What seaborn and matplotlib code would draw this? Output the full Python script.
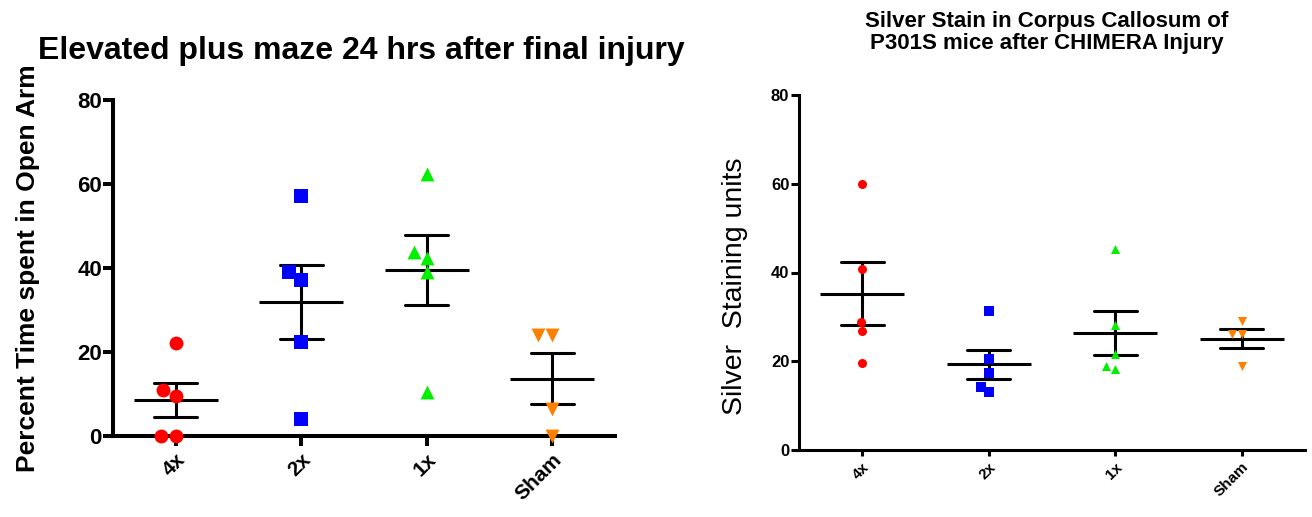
import numpy as np
import pandas as pd
import matplotlib
matplotlib.use("Agg")
import matplotlib.pyplot as plt
import seaborn as sns

# ---------------- data ----------------
categories = ["4x", "2x", "1x", "Sham"]
colors = ["#FF0000", "#0000FF", "#00F000", "#FF8000"]
markers = ["o", "s", "^", "v"]

epm_4x = [22.1, 10.9, 9.5, 0.0, 0.0]
epm_2x = [57.1, 38.9, 37.0, 22.4, 4.0]
epm_1x = [62.2, 43.8, 42.4, 38.9, 10.4]
epm_sham = [24.0, 24.0, 6.5, 0.0]

silver_4x = [60.0, 40.9, 28.9, 26.9, 19.5]
silver_2x = [31.4, 20.6, 17.4, 14.3, 13.1]
silver_1x = [45.2, 28.2, 21.6, 18.9, 18.2]
silver_sham = [29.1, 26.1, 26.1, 19.0]

left_title = "Elevated plus maze 24 hrs after final injury"
left_ylabel = "Percent Time spent in Open Arm"
right_title = "Silver Stain in Corpus Callosum of\nP301S mice after CHIMERA Injury"
right_ylabel = "Silver  Staining units"
yticks = [0, 20, 40, 60, 80]


def make_df(groups):
    rows = []
    for cat, vals in zip(categories, groups):
        for v in vals:
            rows.append((cat, v))
    return pd.DataFrame(rows, columns=["group", "value"])


df_left = make_df([epm_4x, epm_2x, epm_1x, epm_sham])
df_right = make_df([silver_4x, silver_2x, silver_1x, silver_sham])

sns.set_theme(style="ticks")
plt.rcParams["font.family"] = ["Liberation Sans", "DejaVu Sans"]
plt.rcParams["text.color"] = "black"
plt.rcParams["axes.labelcolor"] = "black"
plt.rcParams["xtick.color"] = "black"
plt.rcParams["ytick.color"] = "black"
plt.rcParams["axes.edgecolor"] = "black"

fig = plt.figure(figsize=(13.12, 5.17), dpi=100)
ax1 = fig.add_axes([113 / 1312, 1 - 436 / 517, 502 / 1312, 336.5 / 517])
ax2 = fig.add_axes([799 / 1312, 1 - 450 / 517, 506 / 1312, 355 / 517])


def draw(ax, df, msize, lw, mean_len, spine_w, tick_fs, xtick_fs, yticklen, xticklen):
    for cat, col, mk in zip(categories, colors, markers):
        sub = df[df["group"] == cat]
        sns.swarmplot(data=sub, x="group", y="value", order=categories,
                      color=col, marker=mk, size=msize, linewidth=0, ax=ax)
    for coll in ax.collections:
        coll.set_clip_on(False)
    sns.pointplot(data=df, x="group", y="value", order=categories,
                  errorbar="se", capsize=0.34, color="black",
                  linestyle="none", marker="_", markersize=mean_len,
                  markeredgewidth=lw, err_kws={"linewidth": lw}, ax=ax)
    ax.set_xlim(-0.5, 3.5)
    ax.set_ylim(0, 80)
    ax.set_yticks(yticks)
    sns.despine(ax=ax)
    for s in ["left", "bottom"]:
        ax.spines[s].set_linewidth(spine_w)
    ax.tick_params(axis="both", width=spine_w, color="black")
    ax.tick_params(axis="y", labelsize=tick_fs, pad=1, length=yticklen)
    ax.tick_params(axis="x", labelsize=xtick_fs, pad=3, length=xticklen)
    for t in ax.get_yticklabels():
        t.set_fontweight("bold")
    for t in ax.get_xticklabels():
        t.set_fontweight("bold")
        t.set_rotation(45)
        t.set_ha("right")
        t.set_rotation_mode("anchor")
    ax.set_xlabel("")


draw(ax1, df_left, 10, 2.2, 60, 2.9, 16, 15, 7, 7)
draw(ax2, df_right, 6.5, 2.2, 60, 2.2, 12, 11, 6, 4)

ax1.set_ylabel(left_ylabel, fontsize=19, fontweight="bold")
ax1.yaxis.set_label_coords(-0.145, 0.5)
ax1.set_title(left_title, fontsize=23, fontweight="bold",
              loc="left", x=-0.15, y=1.095)

ax2.set_ylabel(right_ylabel, fontsize=20.5)
ax2.yaxis.set_label_coords(-0.10, 0.46)
ax2.set_title(right_title, fontsize=16, fontweight="bold", x=0.49, y=1.105,
              linespacing=1.1)

fig.savefig("out.png", dpi=100)
